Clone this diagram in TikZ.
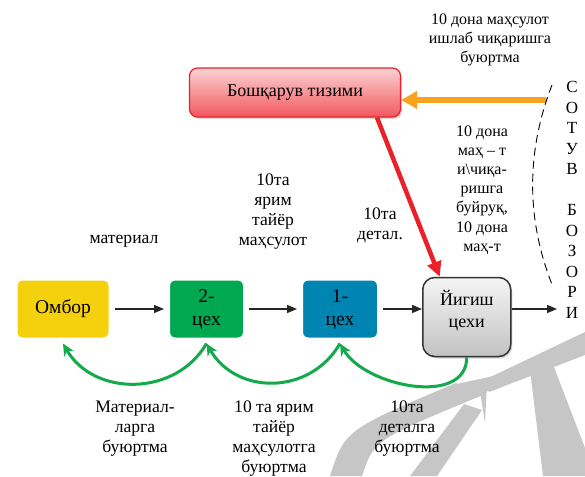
\documentclass[tikz,border=0pt]{standalone}
\usepackage{fontspec}
\setmainfont{Liberation Serif}
\usepackage{tikz}
\usetikzlibrary{positioning}
\usetikzlibrary{arrows.meta,shadows}

\newcommand{\boxfont}{\fontsize{19.5}{23}\selectfont}
\newcommand{\lblfont}{\fontsize{17.6}{20}\selectfont}
\newcommand{\smlfont}{\fontsize{16}{19.2}\selectfont}

\definecolor{ombyellow}{RGB}{245,208,12}
\definecolor{shopgreen}{RGB}{0,168,80}
\definecolor{shopblue}{RGB}{0,133,178}
\definecolor{ordgreen}{RGB}{20,170,75}
\definecolor{ordorange}{RGB}{248,162,32}
\definecolor{ctlred}{RGB}{236,32,40}
\definecolor{wmgray}{RGB}{198,198,198}

\tikzset{
  shop/.style={draw=white, line width=6pt, rounded corners=8pt, minimum height=63pt,
    align=center, font=\boxfont,
    drop shadow={opacity=0.3, shadow xshift=1.5pt, shadow yshift=-2pt}},
  asm/.style={draw=black!80, line width=1.5pt, rounded corners=12pt,
    top color=black!4, bottom color=black!24, minimum width=88pt, minimum height=79pt,
    align=center, font=\fontsize{18}{22}\selectfont,
    drop shadow={opacity=0.3, shadow xshift=1.5pt, shadow yshift=-2pt}},
  mgmt/.style={draw=ctlred, line width=1.2pt, rounded corners=8pt,
    top color=ctlred!20, bottom color=ctlred!75, minimum width=211pt, minimum height=49pt,
    font=\fontsize{18}{21}\selectfont,
    drop shadow={opacity=0.3, shadow xshift=1.5pt, shadow yshift=-2pt}},
  mktcol/.style={align=center, inner sep=0pt, font=\fontsize{17}{20.5}\selectfont},
  lbl/.style={font=\lblfont, align=center, inner sep=0pt},
  slbl/.style={font=\smlfont, align=center, inner sep=0pt},
  flow/.style={-{Triangle[length=10pt,width=8pt]}, line width=1.3pt, black!85},
  order/.style={-{Stealth[length=12pt,width=11pt]}, line width=3pt, ordgreen},
  req/.style={-{Triangle[length=16pt,width=17pt]}, line width=6pt, ordorange},
  cmd/.style={-{Triangle[length=15pt,width=14pt]}, line width=4.5pt, ctlred}
}

\begin{document}
\begin{tikzpicture}[x=1pt,y=1pt]
  \useasboundingbox (0,0) rectangle (585,-476);
  \fill[white] (0,0) rectangle (585,-476);

  % watermark
  \fill[wmgray] (330,-476) .. controls (345,-430) .. (456,-383)
    -- (483,-395) .. controls (374,-440) .. (362,-476) -- cycle;
  \fill[wmgray] (452,-385) -- (494,-376) -- (496,-388) -- (478,-395) -- cycle;
  \fill[wmgray] (479,-385) -- (487,-383) -- (485,-423) -- cycle;
  \fill[wmgray] (410,-476) -- (437,-476) -- (482,-410) -- (464,-404) -- cycle;
  \fill[wmgray] (482,-381) -- (585,-332) -- (585,-355) -- (489,-392) -- cycle;
  \fill[wmgray] (530,-370) -- (552,-362) -- (585,-448) -- (585,-476) -- (543,-476) -- cycle;

  \node [shop, fill=ombyellow, minimum width=97pt] (omb) at (63,-309) {Омбор};
  \node [shop, fill=shopgreen, minimum width=79pt] (c2) [right=49.5pt of omb] {2-\\цех};
  \node [shop, fill=shopblue, minimum width=80pt] (c1) [right=48pt of c2] {1-\\цех};
  \node [asm] (yig) [right=39pt of c1, yshift=-8pt] {Йигиш\\цехи\\[-6pt]\phantom{x}};
  \node [mgmt] (ctl) at (295,-92.5) {Бошқарув тизими};
  \node [mktcol] (mkt) at (572,-200) {С\\О\\Т\\У\\В\\[20.5pt]Б\\О\\З\\О\\Р\\И};

  \coordinate (ord) at (546,-100);
  \coordinate (sell) at (557,-309);

  \draw [flow] (omb) -- (c2);
  \draw [flow] (c2) -- (c1);
  \draw [flow] (c1) -- (c1 -| yig.west);
  \draw [flow] (yig.east |- c1) -- (sell);
  \draw [req] (ord) -- (ord -| ctl.east);
  \draw [cmd] ([xshift=82pt]ctl.south) -- ([xshift=-27pt]yig.north);
  \draw [order] (c2.south) to[out=-120,in=-60,looseness=1.1] (omb.south);
  \draw [order] (c1.south) to[out=-120,in=-60,looseness=1.15] (c2.south);
  \draw [order] (yig.south) to[out=-90,in=-60] (c1.south);

  % sales market border
  \draw [dash pattern=on 8pt off 5pt, line width=0.9pt] (552,-85) .. controls (526,-152) and (526,-220) .. (553,-287);

  \node [lbl] (tmat) at (124,-241) {материал};
  \node [lbl] (tsemi) at (273,-212) {10та\\ярим\\тайёр\\маҳсулот};
  \node [lbl] (tdet) at (380,-225) {10та\\детал.};
  \node [slbl] (tplan) at (490,-40) {10 дона маҳсулот\\ишлаб чиқаришга\\буюртма};
  \node [slbl] (tcmd) at (482,-190) {10 дона\\маҳ – т\\и\textbackslash чиқа-\\ришга\\буйруқ,\\10 дона\\маҳ-т};
  \node [lbl] (omat) at (135,-429) {Материал-\\ларга\\буюртма};
  \node [lbl] (osemi) at (274,-439) {10 та ярим\\тайёр\\маҳсулотга\\буюртма};
  \node [lbl] (odet) at (407,-429) {10та\\деталга\\буюртма};
\end{tikzpicture}
\end{document}
